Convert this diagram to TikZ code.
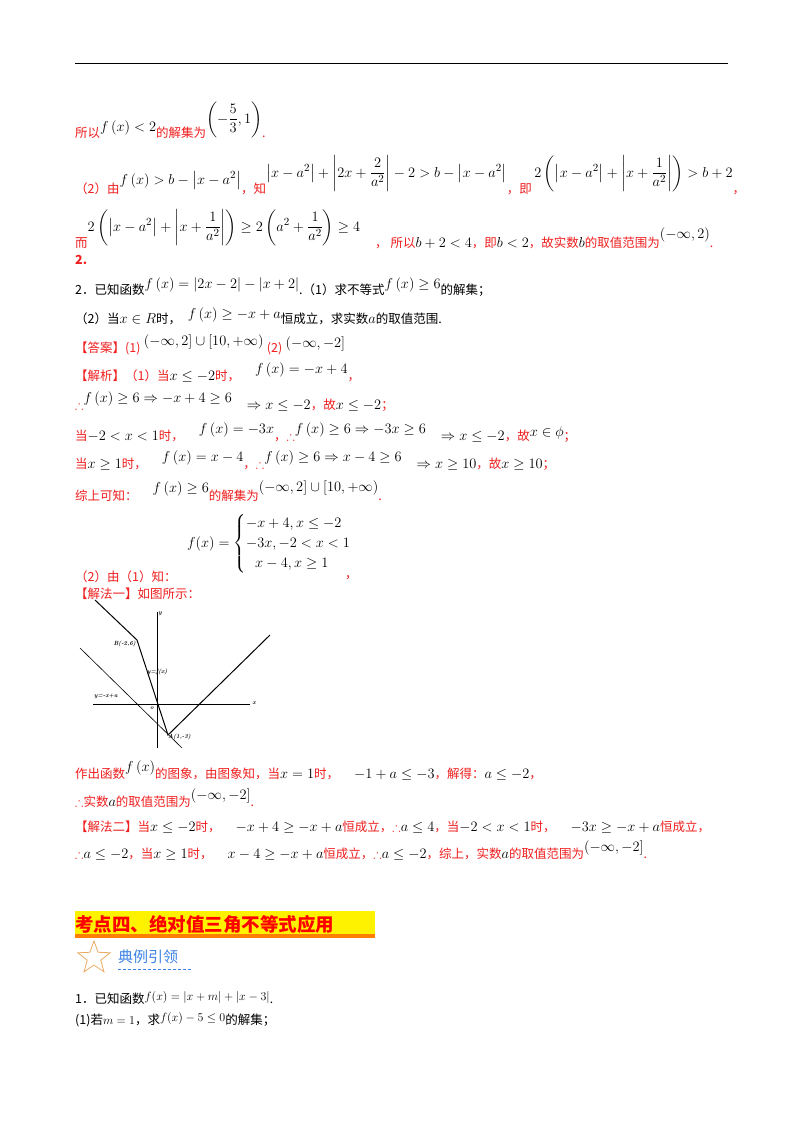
\documentclass[tikz,border=0pt]{standalone}
\usepackage{amsmath,amssymb}
\usepackage{fontspec}
\newfontfamily\cjk{Noto Sans CJK SC}
\usetikzlibrary{shapes.geometric}
\definecolor{rd}{RGB}{240,30,30}
\definecolor{bl}{RGB}{60,130,230}
\definecolor{org}{RGB}{235,170,100}
\tikzset{ln/.style={anchor=base west,inner sep=0pt,font=\cjk\fontsize{15}{17}\selectfont},
 g/.style={line width=1pt},
 gl/.style={font=\bfseries\fontsize{6}{7}\selectfont,inner sep=0pt}}
\newcommand{\C}[1]{{\fontsize{12.5}{14}\selectfont #1}}
\newcommand{\R}[1]{\textcolor{rd}{\C{#1}}}
\begin{document}
\begin{tikzpicture}[x=1pt,y=-1pt]
\useasboundingbox[fill=white] (0,0) rectangle (800,1132);
\draw[line width=0.8pt] (75,63) -- (728,63);
\node[ln] (l1) at (75,137) {\R{所以}\raisebox{6pt}{$f\left(x\right)<2$}\R{的解集为}\raisebox{14pt}{$\left(-\dfrac{5}{3},1\right)$}\R{.}};
\node[ln] (l2) at (75,193) {\R{（2）由}\raisebox{9pt}{$f\left(x\right)>b-\left|x-a^2\right|$}\R{，知}\raisebox{16pt}{$\left|x-a^2\right|+\left|2x+\dfrac{2}{a^2}\right|-2>b-\left|x-a^2\right|$}\R{，即}\,\raisebox{16pt}{$2\left(\left|x-a^2\right|+\left|x+\dfrac{1}{a^2}\right|\right)>b+2$}\R{，}};
\node[ln] (l3) at (75,247) {\R{而}\raisebox{16pt}{$2\left(\left|x-a^2\right|+\left|x+\dfrac{1}{a^2}\right|\right)\ge 2\left(a^2+\dfrac{1}{a^2}\right)\ge 4$}\quad\R{，\ 所以}$b+2<4$\R{，即}$b<2$\R{，故实数}$b$\R{的取值范围为}\raisebox{9pt}{$\left(-\infty,2\right)$}\R{.}};
\node[ln] (l4) at (75,264) {\R{\bfseries 2.}};
\node[ln] (l5) at (75,294) {\C{2．已知函数}\raisebox{6pt}{$f\left(x\right)=\left|2x-2\right|-\left|x+2\right|$}\C{.（1）求不等式}\raisebox{6pt}{$f\left(x\right)\ge 6$}\C{的解集；}};
\node[ln] (l6) at (75,323) {\C{（2）当}$x\in R$\C{时，}\ \ \raisebox{5pt}{$f\left(x\right)\ge -x+a$}\C{恒成立，求实数}$a$\C{的取值范围.}};
\node[ln] (l7) at (75,352) {\R{【答案】(1)}\ \raisebox{7pt}{$\left(-\infty,2\right]\cup\left[10,+\infty\right)$}\ \R{(2)}\ \raisebox{5pt}{$\left(-\infty,-2\right]$}};
\node[ln] (l8) at (75,380) {\R{【解析】（1）当}$x\le -2$\R{时，}\quad\raisebox{7pt}{$f\left(x\right)=-x+4$}\R{，}};
\node[ln] (l9) at (75,409) {\R{$\therefore$}\raisebox{7pt}{$f\left(x\right)\ge 6\Rightarrow -x+4\ge 6$}\quad$\Rightarrow x\le -2$\R{，故}$x\le -2$\R{；}};
\node[ln] (l10) at (75,440) {\R{当}$-2<x<1$\R{时，}\quad\raisebox{7pt}{$f\left(x\right)=-3x$}\R{，$\therefore$}\raisebox{7pt}{$f\left(x\right)\ge 6\Rightarrow -3x\ge 6$}\quad$\Rightarrow x\le -2$\R{，故}\raisebox{4pt}{$x\in\phi$}\R{；}};
\node[ln] (l11) at (75,468) {\R{当}$x\ge 1$\R{时，}\quad\raisebox{7pt}{$f\left(x\right)=x-4$}\R{，$\therefore$}\raisebox{7pt}{$f\left(x\right)\ge 6\Rightarrow x-4\ge 6$}\quad$\Rightarrow x\ge 10$\R{，故}$x\ge 10$\R{；}};
\node[ln] (l12) at (75,500) {\R{综上可知：}\quad\raisebox{8pt}{$f\left(x\right)\ge 6$}\R{的解集为}\raisebox{9pt}{$\left(-\infty,2\right]\cup\left[10,+\infty\right)$}\R{.}};
\node[ln,font=\fontsize{14}{16}\selectfont] (pw) at (187,547) {$f(x)=\begin{cases}-x+4,x\le -2\\[1pt] -3x,-2<x<1\\[1pt] \ \ x-4,x\ge 1\end{cases}$};
\node[ln] (l13) at (75,581) {\R{（2）由（1）知：}};
\node[ln] (cm) at (345,578) {\R{，}};
\node[ln] (l14) at (75,598) {\R{【解法一】如图所示：}};
% graph
\coordinate (O) at (157,704);
\coordinate (B) at (137,640);
\coordinate (A) at (168,735);
\draw[line width=0.6pt] (93,704) -- (250,704);
\draw[line width=0.6pt] (157,748) -- (157,612);
\draw[g] (95,600) -- (B) -- (A) -- (270,635);
\draw[line width=0.6pt] (80,648) -- (182,748);
\node[gl] at (254,703) {\itshape x};
\node[gl] at (160,614) {\itshape y};
\node[gl,anchor=east] at (136,644) {\itshape B(-2,6)};
\node[gl,anchor=west] at (147,672) {\itshape y=f(x)};
\node[gl,anchor=west] at (94,696) {\itshape y=-x+a};
\node[gl] at (152,708) {\itshape o};
\node[gl,anchor=west] at (168,737) {\itshape A(1,-3)};
\node[ln] (l15) at (75,778) {\R{作出函数}\raisebox{7pt}{$f\left(x\right)$}\R{的图象，由图象知，当}$x=1$\R{时，}\quad$-1+a\le -3$\R{，解得：}$a\le -2$\R{，}};
\node[ln] (l16) at (75,806) {\R{$\therefore$实数}$a$\R{的取值范围为}\raisebox{7pt}{$\left(-\infty,-2\right]$}\R{.}};
\node[ln] (l17) at (75,831) {\R{【解法二】当}$x\le -2$\R{时，}\quad$-x+4\ge -x+a$\R{恒成立，$\therefore$}$a\le 4$\R{，当}$-2<x<1$\R{时，}\quad$-3x\ge -x+a$\R{恒成立，}};
\node[ln] (l18) at (75,858) {\R{$\therefore$}$a\le -2$\R{，当}$x\ge 1$\R{时，}\quad$x-4\ge -x+a$\R{恒成立，$\therefore$}$a\le -2$\R{，综上，实数}$a$\R{的取值范围为}\raisebox{7pt}{$\left(-\infty,-2\right]$}\R{.}};
% heading
\fill[yellow] (75,911) rectangle (375,936);
\fill[orange] (75,934) rectangle (375,938);
\node[anchor=base west,inner sep=0pt,font=\cjk\bfseries\fontsize{18.5}{20}\selectfont,text=red] (h) at (75,931) {考点四、绝对值三角不等式应用};
\node[star,star points=5,star point ratio=2.4,draw=org,line width=0.8pt,minimum size=34pt,inner sep=0pt] (st) at (94,958) {};
\node[anchor=base west,inner sep=0pt,font=\cjk\fontsize{15}{17}\selectfont,text=bl] (dl) at (118,962) {典例引领};
\draw[bl,dashed,line width=0.8pt,dash pattern=on 3pt off 2pt] (118,969) -- (192,969);
\node[ln,font=\cjk\fontsize{12}{14}\selectfont] (q1) at (75,1003) {\C{1．已知函数}\raisebox{3pt}{$f(x)=|x+m|+|x-3|$}.};
\node[ln,font=\cjk\fontsize{12}{14}\selectfont] (q2) at (75,1024) {\C{(1)若}$m=1$\C{，求}\raisebox{3pt}{$f(x)-5\le 0$}\C{的解集；}};
\end{tikzpicture}
\end{document}
